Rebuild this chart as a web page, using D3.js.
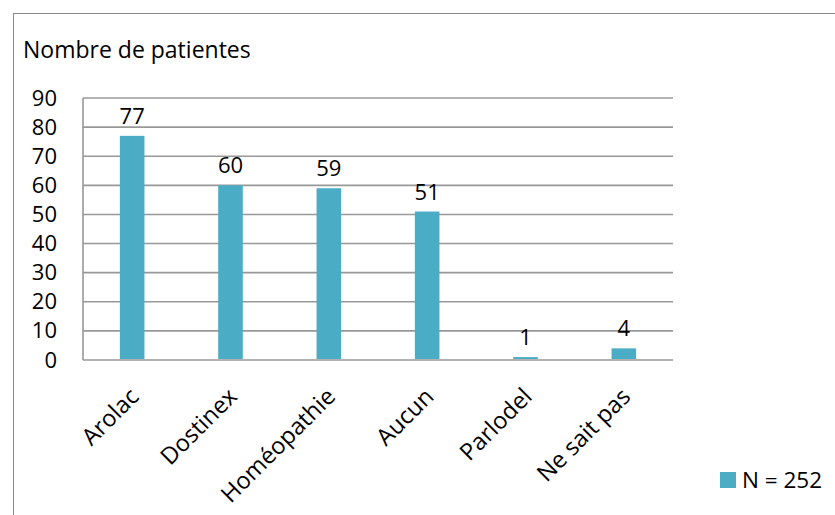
<!DOCTYPE html>
<html><head><meta charset="utf-8">
<script src="https://cdn.jsdelivr.net/npm/d3@7/dist/d3.min.js"></script>
<style>body{margin:0;background:#fff;} text{font-family:"Open Sans",sans-serif;fill:#000;}</style>
</head><body>
<svg id="c" width="835" height="515"></svg>
<script>
const categories = ["Arolac","Dostinex","Homéopathie","Aucun","Parlodel","Ne sait pas"];
const values = [77,60,59,51,1,4];
const yTicks = [0,10,20,30,40,50,60,70,80,90];
const title = "Nombre de patientes";
const legendLabel = "N = 252";

const svg = d3.select("#c");
const m = {left:83, right:673, top:98, bottom:360};
svg.append("rect").attr("x",13.5).attr("y",13.5).attr("width",840).attr("height",520)
  .attr("fill","#fff").attr("stroke","#898989").attr("stroke-width",1);

const x = d3.scaleBand().domain(categories).range([m.left,m.right]).paddingInner(0.75).paddingOuter(0.375);
const y = d3.scaleLinear().domain([0,90]).range([m.bottom,m.top]);

// gridlines
svg.append("g").selectAll("line").data(yTicks).join("line")
  .attr("x1",m.left).attr("x2",m.right).attr("y1",d=>y(d)).attr("y2",d=>y(d))
  .attr("stroke","#989898").attr("stroke-width",1.6);
// left axis line
svg.append("line").attr("x1",m.left).attr("x2",m.left).attr("y1",m.top).attr("y2",m.bottom)
  .attr("stroke","#989898").attr("stroke-width",1.6);

// y axis labels
const yAxis = d3.axisLeft(y).tickValues(yTicks).tickSize(0).tickPadding(26);
const gy = svg.append("g").attr("transform",`translate(${m.left},0)`).call(yAxis);
gy.select(".domain").remove();
gy.selectAll("text").style("font-family","'Open Sans',sans-serif").style("font-size","22px").attr("fill","#000");

// bars
svg.append("g").selectAll("rect").data(values).join("rect")
  .attr("x",(d,i)=>x(categories[i])).attr("width",x.bandwidth())
  .attr("y",d=>y(d)).attr("height",d=>m.bottom-y(d)-1)
  .attr("fill","#4BACC6");

// value labels
svg.append("g").selectAll("text").data(values).join("text")
  .attr("x",(d,i)=>x(categories[i])+x.bandwidth()/2).attr("y",d=>y(d)-12)
  .attr("text-anchor","middle").style("font-size","22px").text(d=>d);

// x labels
svg.append("g").selectAll("text").data(categories).join("text")
  .attr("transform",d=>`translate(${x(d)+x.bandwidth()/2+8},${m.bottom+38}) rotate(-45)`)
  .attr("text-anchor","end").style("font-size","23.5px").text(d=>d);

// title
svg.append("text").attr("x",23).attr("y",58).style("font-size","23px").text(title);

// legend
svg.append("rect").attr("x",720).attr("y",472).attr("width",16).attr("height",16).attr("fill","#4BACC6");
svg.append("text").attr("x",742).attr("y",488).style("font-size","22.5px").text(legendLabel);
</script>
</body></html>
